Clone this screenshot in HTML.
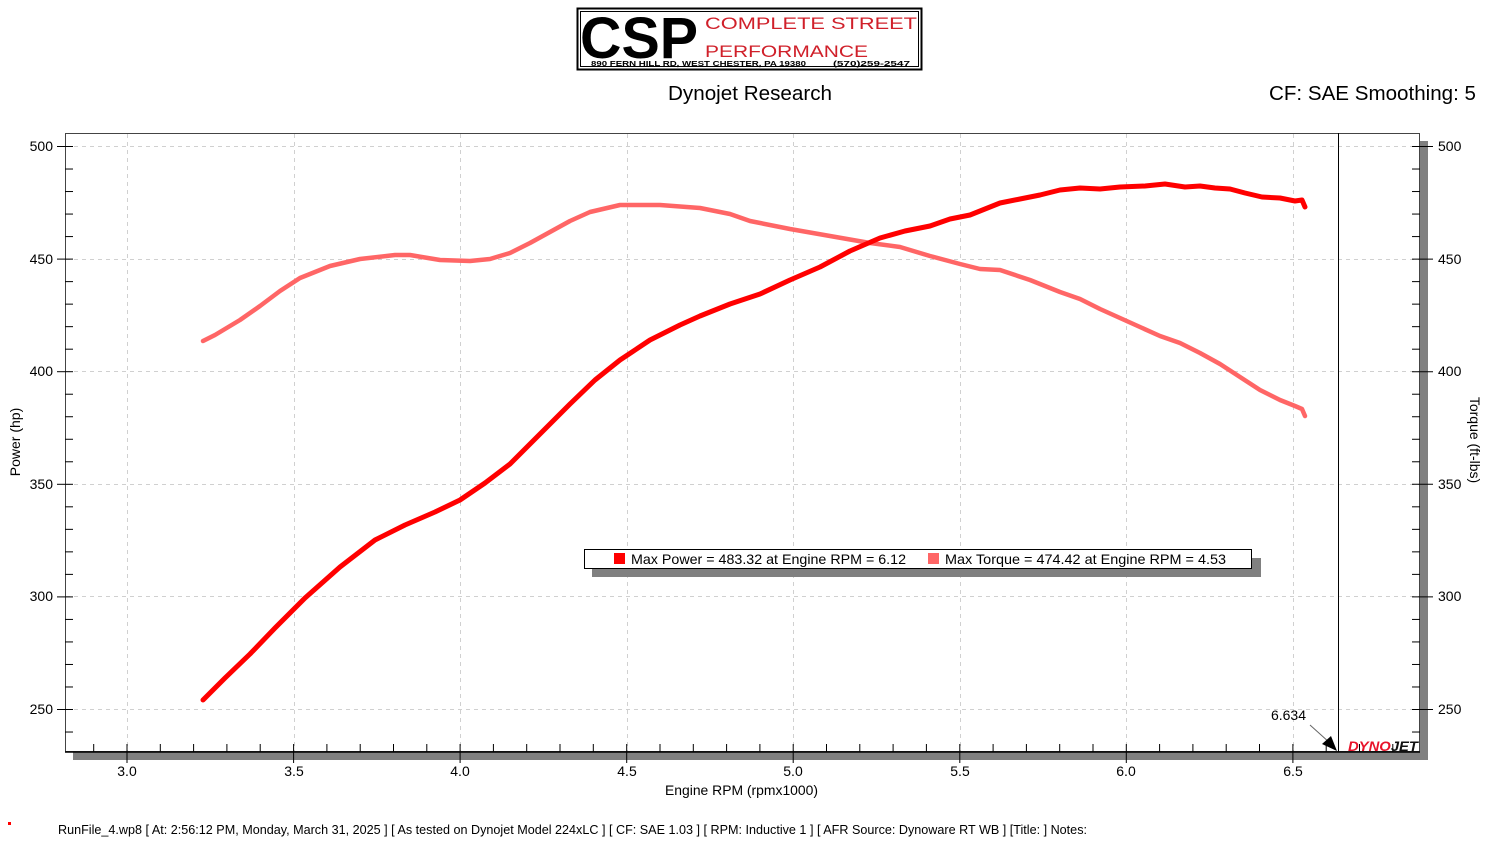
<!DOCTYPE html>
<html><head><meta charset="utf-8"><style>
html,body{margin:0;padding:0;background:#fff;}
svg{display:block;font-family:"Liberation Sans",sans-serif;}
</style></head><body>
<svg width="1500" height="844" viewBox="0 0 1500 844" xmlns="http://www.w3.org/2000/svg">
<!-- logo -->
<rect x="577.5" y="8.5" width="344" height="61" fill="#fff" stroke="#000" stroke-width="2"/>
<rect x="580.5" y="11.5" width="338" height="55" fill="none" stroke="#000" stroke-width="1"/>
<text x="580" y="58" font-weight="bold" font-size="58" fill="#000" textLength="118" lengthAdjust="spacingAndGlyphs">CSP</text>
<text x="705" y="29" font-size="17" fill="#d0202a" textLength="212" lengthAdjust="spacingAndGlyphs">COMPLETE STREET</text>
<text x="705" y="57" font-size="17" fill="#d0202a" textLength="163" lengthAdjust="spacingAndGlyphs">PERFORMANCE</text>
<text x="591" y="66" font-size="7" font-weight="bold" fill="#000" textLength="215" lengthAdjust="spacingAndGlyphs">890 FERN HILL RD, WEST CHESTER, PA 19380</text>
<text x="833" y="66" font-size="7" font-weight="bold" fill="#000" textLength="77" lengthAdjust="spacingAndGlyphs">(570)259-2547</text>

<text x="668" y="100" font-size="20" fill="#000" textLength="164" lengthAdjust="spacingAndGlyphs">Dynojet Research</text>
<text x="1269" y="100" font-size="20" fill="#000" textLength="207" lengthAdjust="spacingAndGlyphs">CF: SAE Smoothing: 5</text>

<!-- shadow -->
<rect x="73" y="752" width="1355" height="8" fill="#808080"/>
<rect x="1420" y="141" width="8" height="619" fill="#808080"/>
<!-- grid -->
<g stroke="#d0d0d0" stroke-width="1" stroke-dasharray="4,4">
<line x1="127.5" y1="134" x2="127.5" y2="752"/>
<line x1="294.5" y1="134" x2="294.5" y2="752"/>
<line x1="460.5" y1="134" x2="460.5" y2="752"/>
<line x1="627.5" y1="134" x2="627.5" y2="752"/>
<line x1="793.5" y1="134" x2="793.5" y2="752"/>
<line x1="960.5" y1="134" x2="960.5" y2="752"/>
<line x1="1126.5" y1="134" x2="1126.5" y2="752"/>
<line x1="1293.5" y1="134" x2="1293.5" y2="752"/>
<line x1="66" y1="146.5" x2="1420" y2="146.5"/>
<line x1="66" y1="259.5" x2="1420" y2="259.5"/>
<line x1="66" y1="371.5" x2="1420" y2="371.5"/>
<line x1="66" y1="484.5" x2="1420" y2="484.5"/>
<line x1="66" y1="596.5" x2="1420" y2="596.5"/>
<line x1="66" y1="709.5" x2="1420" y2="709.5"/>
</g>
<rect x="65.5" y="133.5" width="1354" height="618" fill="none" stroke="#444" stroke-width="1"/>
<line x1="65" y1="752" x2="1420" y2="752" stroke="#000" stroke-width="1.5"/>
<g stroke="#000" stroke-width="1" id="ticks"></g>
<g font-size="14" fill="#000" text-anchor="end">
<text x="53" y="151">500</text><text x="53" y="264">450</text><text x="53" y="376">400</text>
<text x="53" y="489">350</text><text x="53" y="601">300</text><text x="53" y="714">250</text>
</g>
<g font-size="14" fill="#000" text-anchor="start">
<text x="1438" y="151">500</text><text x="1438" y="264">450</text><text x="1438" y="376">400</text>
<text x="1438" y="489">350</text><text x="1438" y="601">300</text><text x="1438" y="714">250</text>
</g>
<g font-size="14" fill="#000" text-anchor="middle">
<text x="127" y="776">3.0</text><text x="294" y="776">3.5</text><text x="460" y="776">4.0</text>
<text x="627" y="776">4.5</text><text x="793" y="776">5.0</text><text x="960" y="776">5.5</text>
<text x="1126" y="776">6.0</text><text x="1293" y="776">6.5</text>
</g>
<text x="665" y="795" font-size="14" textLength="153" lengthAdjust="spacingAndGlyphs">Engine RPM (rpmx1000)</text>
<text transform="translate(20,442) rotate(-90)" font-size="14" text-anchor="middle">Power (hp)</text>
<text transform="translate(1470,440) rotate(90)" font-size="14" text-anchor="middle">Torque (ft-lbs)</text>

<polyline fill="none" stroke="#ff6666" stroke-width="4.5" stroke-linecap="round" stroke-linejoin="round"
points="203,341 215,335 240,320 260,306 280,291 300,278 330,266 360,259 395,255 410,255 440,260 470,261 490,259 510,253 530,243 550,232 570,221 590,212 620,205 660,205 700,208 730,214 750,221 790,229 830,236 870,243 900,247 930,256 960,264 980,269 1000,270 1030,280 1060,292 1080,299 1100,309 1120,318 1140,327 1160,336 1180,343 1200,353 1220,364 1240,377 1260,390 1280,400 1295,406 1302,409 1305,416"/>
<polyline fill="none" stroke="#ff0000" stroke-width="5" stroke-linecap="round" stroke-linejoin="round"
points="203,700 225,678 250,654 275,628 305,598 340,567 375,540 405,525 435,512 460,500 485,483 510,464 540,434 570,404 595,380 620,360 650,340 680,325 700,316 730,304 760,294 790,280 820,267 850,251 880,238 905,231 930,226 950,219 970,215 990,207 1000,203 1020,199 1040,195 1060,190 1080,188 1100,189 1120,187 1145,186 1165,184 1185,187 1200,186 1215,188 1230,189 1245,193 1262,197 1280,198 1295,201 1302,200 1305,207"/>

<rect x="592" y="558" width="669" height="19" fill="#808080"/>
<rect x="584.5" y="549.5" width="667" height="19" fill="#fff" stroke="#000" stroke-width="1"/>
<rect x="614" y="553" width="11" height="11" fill="#ff0000"/>
<rect x="928" y="553" width="11" height="11" fill="#ff6666"/>
<text x="631" y="564" font-size="14" textLength="275" lengthAdjust="spacingAndGlyphs">Max Power = 483.32 at Engine RPM = 6.12</text>
<text x="945" y="564" font-size="14" textLength="281" lengthAdjust="spacingAndGlyphs">Max Torque = 474.42 at Engine RPM = 4.53</text>

<line x1="1338.5" y1="133" x2="1338.5" y2="752" stroke="#000" stroke-width="1"/>
<text x="1306" y="720" font-size="14" text-anchor="end">6.634</text>
<line x1="1310" y1="725" x2="1330" y2="743" stroke="#666" stroke-width="1"/>
<polygon points="1337,751 1322,744 1331,736" fill="#000"/>
<text x="1348" y="751" font-weight="bold" font-style="italic" font-size="14" textLength="70" lengthAdjust="spacingAndGlyphs"><tspan fill="#e8132a">DYNO</tspan><tspan fill="#111">JET</tspan></text>

<rect x="8" y="822" width="3" height="3" fill="#ff0000"/>
<text x="58" y="834" font-size="12.5" fill="#000" textLength="1029" lengthAdjust="spacingAndGlyphs">RunFile_4.wp8 [ At: 2:56:12 PM, Monday, March 31, 2025 ] [ As tested on Dynojet Model 224xLC ] [ CF: SAE 1.03 ] [ RPM: Inductive 1 ] [ AFR Source: Dynoware RT WB ] [Title: ]  Notes:</text>
</svg>
<script>
var g=document.getElementById('ticks'),s='';
for(var i=-1;i<=39;i++){var x=127+i*33.31;if(x<66||x>1420)continue;var maj=(i%5==0);
s+='<line x1="'+x.toFixed(1)+'" y1="744" x2="'+x.toFixed(1)+'" y2="'+(maj?763:752)+'"/>';}
for(var v=240;v<=500;v+=10){var y=146+(500-v)*2.252+0.5;var maj=(v%50==0);
s+='<line x1="'+(maj?57:65)+'" y1="'+y+'" x2="73" y2="'+y+'"/>';
s+='<line x1="1412" y1="'+y+'" x2="'+(maj?1433:1420)+'" y2="'+y+'"/>';}
g.innerHTML=s;
</script>
</body></html>
